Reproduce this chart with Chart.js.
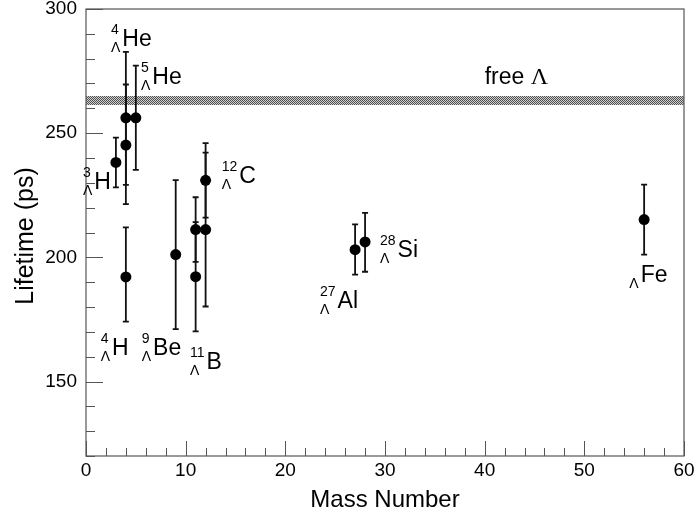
<!DOCTYPE html>
<html>
<head>
<meta charset="utf-8">
<script src="https://cdn.jsdelivr.net/npm/chart.js@4/dist/chart.umd.min.js"></script>
<style>
html,body{margin:0;padding:0;background:#fff;}
canvas{display:block;}
</style>
</head>
<body>
<canvas id="c" width="695" height="517"></canvas>
<script>
// ---- data ----
const massNumber = [3, 4, 4, 4, 5, 9, 11, 11, 12, 12, 27, 28, 56];
const lifetime   = [238.2, 256.2, 245.2, 192.1, 256.2, 201.1, 211.2, 192.2, 231.0, 211.2, 203.1, 206.2, 215.2];
const errUp      = [10, 26.5, 24.4, 20, 21, 30, 13, 22, 15, 31, 10.2, 11.7, 14.1];
const errDown    = [10, 27, 23.8, 18, 21, 30, 13, 22, 15, 31, 10.1, 12, 14.1];

const freeLambda = 263.2;
const freeLambdaErr = 1.9;

const xTickLabels = [0, 10, 20, 30, 40, 50, 60];
const yTickLabels = [150, 200, 250, 300];

// hypernucleus labels: mass superscript, element, anchor (data coords)
const labelMass = ['4', '5', '3', '12', '4', '9', '11', '27', '28', ''];
const labelElem = ['He', 'He', 'H', 'C', 'H', 'Be', 'B', 'Al', 'Si', 'Fe'];
const labelAtX  = [2.51, 5.52, -0.3, 13.61, 1.47, 5.59, 10.43, 23.48, 29.5, 54.51];
const labelAtY  = [284.9, 270.0, 227.4, 230.0, 160.5, 160.5, 155.2, 179.4, 200.1, 190.0];

const FONT = '"Liberation Sans", Arial, Helvetica, sans-serif';
Chart.defaults.font.family = FONT;

function makePattern(ctx) {
  const pc = document.createElement('canvas');
  pc.width = 2; pc.height = 2;
  const p = pc.getContext('2d');
  p.fillStyle = '#d0d0d0'; p.fillRect(0, 0, 2, 2);
  p.fillStyle = '#505050'; p.fillRect(0, 0, 1, 1); p.fillRect(1, 1, 1, 1);
  return ctx.createPattern(pc, 'repeat');
}

const decor = {
  id: 'decor',
  beforeDatasetsDraw(chart) {
    const {ctx, chartArea: a, scales: {x, y}} = chart;
    ctx.save();
    // free lambda band
    const yt = Math.round(y.getPixelForValue(freeLambda + freeLambdaErr));
    const yb = Math.round(y.getPixelForValue(freeLambda - freeLambdaErr));
    ctx.fillStyle = makePattern(ctx);
    ctx.fillRect(Math.round(a.left), yt, Math.round(a.right - a.left), yb - yt);

    // error bars
    ctx.strokeStyle = '#111';
    ctx.lineWidth = 1.8;
    for (let i = 0; i < massNumber.length; i++) {
      const px = x.getPixelForValue(massNumber[i]);
      const p1 = y.getPixelForValue(lifetime[i] + errUp[i]);
      const p2 = y.getPixelForValue(lifetime[i] - errDown[i]);
      ctx.beginPath();
      ctx.moveTo(px, p1); ctx.lineTo(px, p2);
      ctx.moveTo(px - 3, p1); ctx.lineTo(px + 3, p1);
      ctx.moveTo(px - 3, p2); ctx.lineTo(px + 3, p2);
      ctx.stroke();
    }
    ctx.restore();
  },
  afterDraw(chart) {
    const {ctx, chartArea: a, scales: {x, y}} = chart;
    ctx.save();
    // frame
    ctx.strokeStyle = '#555';
    ctx.lineWidth = 1.2;
    ctx.strokeRect(a.left, a.top, a.right - a.left, a.bottom - a.top);
    // inward ticks
    ctx.lineWidth = 1;
    ctx.beginPath();
    y.ticks.forEach(t => {
      const py = Math.round(y.getPixelForValue(t.value)) + 0.5;
      const len = (t.value % 50 === 0) ? 17 : 9;
      ctx.moveTo(a.left, py); ctx.lineTo(a.left + len, py);
    });
    x.ticks.forEach(t => {
      const px = Math.round(x.getPixelForValue(t.value)) + 0.5;
      const len = (t.value % 10 === 0) ? 15 : 8;
      ctx.moveTo(px, a.bottom); ctx.lineTo(px, a.bottom - len);
    });
    ctx.stroke();

    // axis titles
    ctx.fillStyle = '#000';
    ctx.font = '24px ' + FONT;
    ctx.textAlign = 'center';
    ctx.textBaseline = 'alphabetic';
    ctx.fillText('Mass Number', (a.left + a.right) / 2, 507);
    ctx.save();
    ctx.translate(33, 236);
    ctx.rotate(-Math.PI / 2);
    ctx.font = '25px ' + FONT;
    ctx.fillText('Lifetime (ps)', 0, 0);
    ctx.restore();

    // nucleus labels
    ctx.textAlign = 'left';
    for (let i = 0; i < labelElem.length; i++) {
      const cx = x.getPixelForValue(labelAtX[i]);
      const by = y.getPixelForValue(labelAtY[i]);
      ctx.font = '14px ' + FONT;
      const wSup = labelMass[i] ? ctx.measureText(labelMass[i]).width : 0;
      const wLam = ctx.measureText('Λ').width;
      if (labelMass[i]) ctx.fillText(labelMass[i], cx, by - 12);
      ctx.fillText('Λ', cx, by + 6);
      ctx.font = '23px ' + FONT;
      ctx.fillText(labelElem[i], cx + Math.max(wSup, wLam) + 2, by);
    }
    // free lambda
    const fx = x.getPixelForValue(40.0);
    const fy = y.getPixelForValue(270.0);
    ctx.font = '23px ' + FONT;
    ctx.fillText('free ', fx, fy);
    const wf = ctx.measureText('free ').width;
    ctx.font = '24px "Liberation Serif", "Times New Roman", serif';
    ctx.fillText('Λ', fx + wf, fy);
    ctx.restore();
  }
};

new Chart(document.getElementById('c'), {
  type: 'scatter',
  data: {
    datasets: [{
      data: massNumber.map((m, i) => ({x: m, y: lifetime[i]})),
      backgroundColor: '#000',
      borderColor: '#000',
      pointRadius: 5.5,
      pointHoverRadius: 5.5,
      borderWidth: 0
    }]
  },
  options: {
    responsive: false,
    animation: false,
    events: [],
    layout: {padding: {top: 9, right: 11, left: 0, bottom: 0}},
    plugins: {legend: {display: false}, tooltip: {enabled: false}},
    scales: {
      x: {
        type: 'linear',
        min: 0, max: 60,
        grid: {display: false, drawTicks: false},
        border: {display: false},
        ticks: {
          stepSize: 2, autoSkip: false, maxRotation: 0, padding: 3,
          color: '#000', font: {size: 19},
          callback: v => xTickLabels.includes(v) ? String(v) : ''
        },
        afterFit: s => { s.height = 61; s.paddingLeft = 0; s.paddingRight = 0; }
      },
      y: {
        type: 'linear',
        min: 120, max: 300,
        grid: {display: false, drawTicks: false},
        border: {display: false},
        ticks: {
          stepSize: 10, autoSkip: false, padding: 9,
          color: '#000', font: {size: 19},
          callback: v => yTickLabels.includes(v) ? String(v) : ''
        },
        afterFit: s => { s.width = 86; s.paddingTop = 0; s.paddingBottom = 0; }
      }
    }
  },
  plugins: [decor]
});
</script>
</body>
</html>
